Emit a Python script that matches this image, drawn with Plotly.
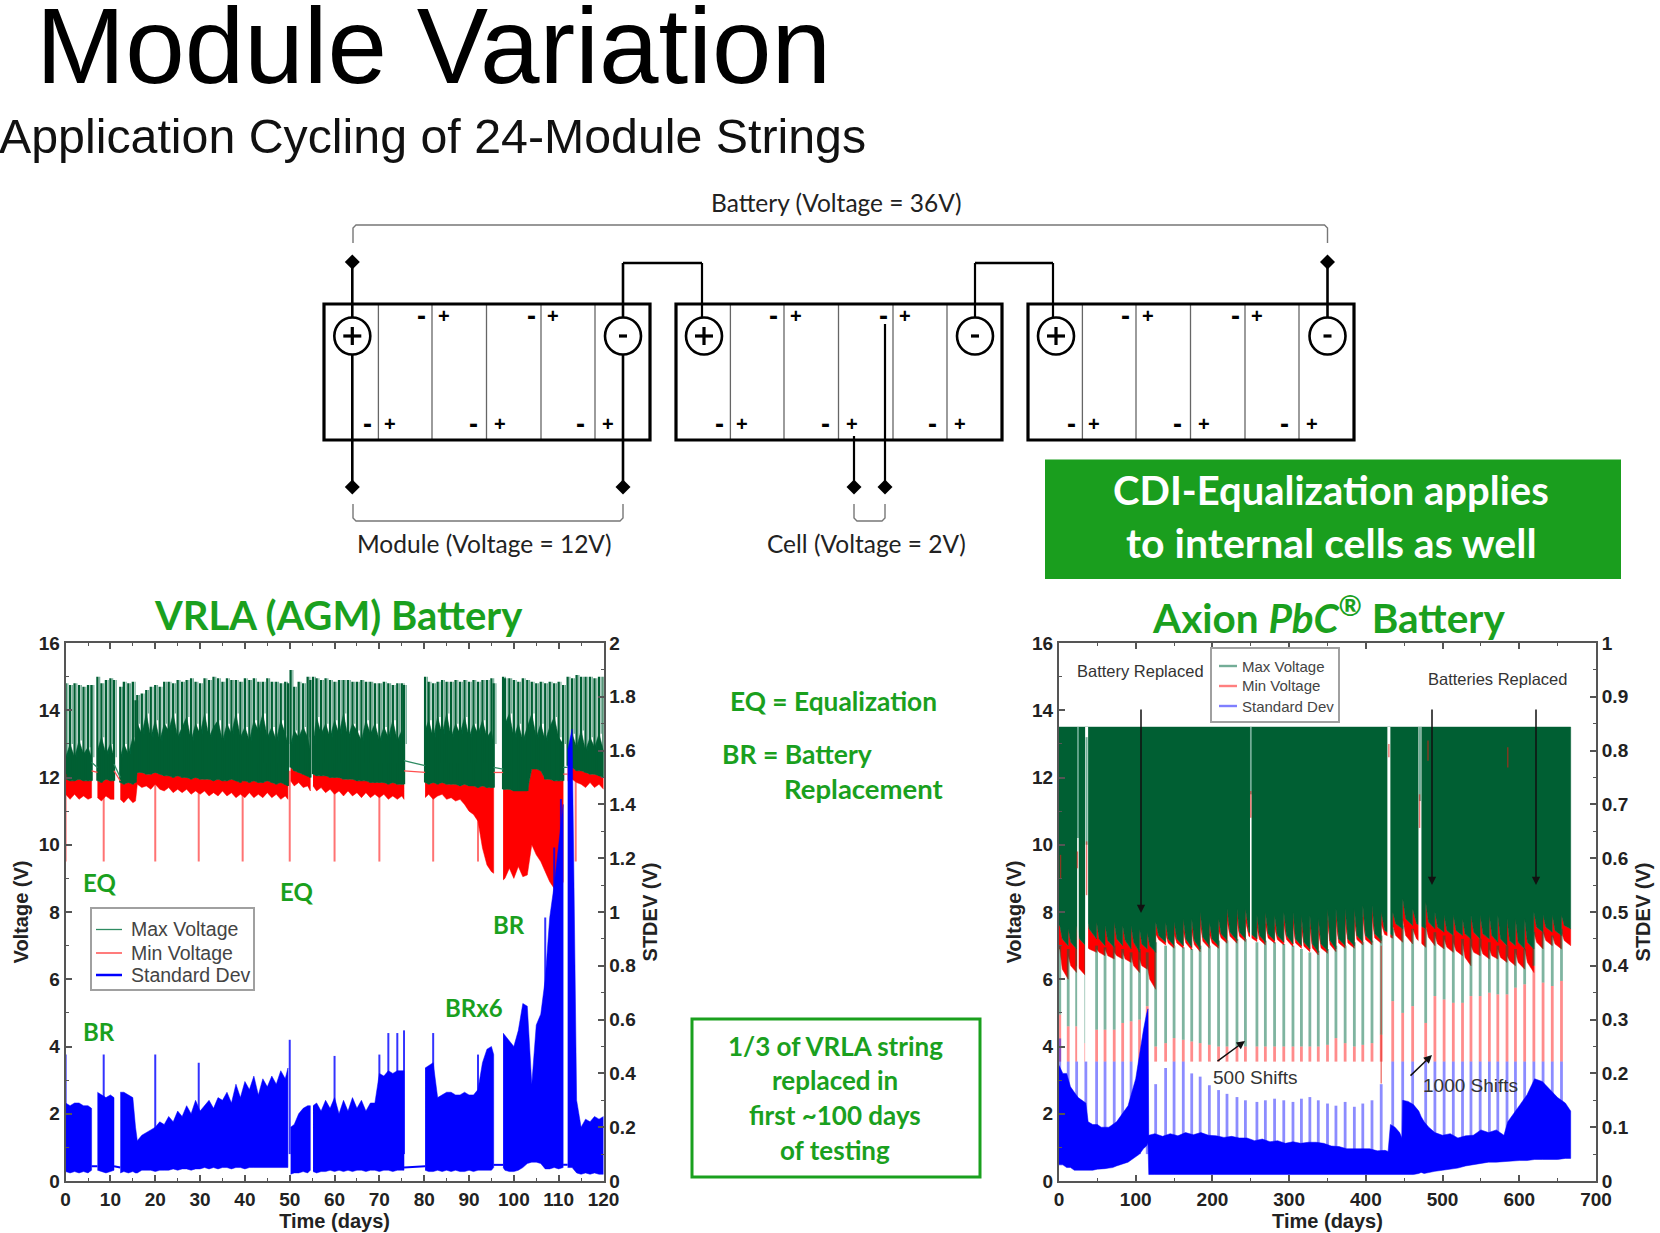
import plotly.graph_objects as go

W, H = 1660, 1233

# ---------- VRLA chart data (days, volts, stdev volts); None = break in the record ----------
vrla_days = [0,1,2,3,4,5,5.8, None,
  7.1,8,9,10,10.8, None,
  12.2,13,14,15,15.6,16,17,18,19,20,21,22,23,24,25,26,27,28,29,30,31,32,33,34,35,36,37,38,39,40,41,42,43,44,45,46,47,48,49,49.6, None,
  50.2,51,52,53,54,54.6, None,
  55.2,56,57,58,59,60,61,62,63,64,65,66,67,68,69,70,71,72,73,74,75,75.5, None,
  80.2,81,82,83,84,85,86,87,88,89,90,91,92,93,94,95,95.5, None,
  97.6,98,99,100,101,102,103,104,105,106,107,108,109,110,111, None,
  112,113,114,115,116,117,118,119,120]
vrla_max_top = [14.8,14.75,14.8,14.75,14.7,14.75,14.75, None,
  15.0,14.8,14.9,14.95,14.9, None,
  14.7,14.85,14.8,14.85,14.3,14.45,14.5,14.6,14.7,14.75,14.7,14.85,14.85,14.8,14.9,14.85,14.9,14.95,14.85,14.8,14.95,14.9,15,14.95,14.85,14.95,14.9,14.9,14.85,14.95,14.9,14.95,14.85,14.85,14.95,14.85,14.85,14.8,14.85,14.8, None,
  15.2,14.7,14.85,14.8,15.0,14.9, None,
  15.0,14.95,14.9,14.95,14.9,14.85,14.9,14.9,14.9,14.85,14.85,14.9,14.85,14.85,14.8,14.8,14.85,14.8,14.75,14.8,14.8,14.75, None,
  15.0,14.85,14.8,14.85,14.9,14.85,14.85,14.9,14.85,14.9,14.85,14.9,14.85,14.9,14.9,14.95,14.8, None,
  15.0,14.95,14.95,14.9,14.85,14.95,14.9,14.85,14.8,14.85,14.8,14.85,14.8,14.85,14.75, None,
  15.0,14.95,15.05,15,15,15,14.95,15,15]
vrla_max_mid = [12.6,13.0,12.6,13.1,12.7,12.9,12.6, None,
  12.8,13.2,12.7,13.0,12.6, None,
  12.6,13.0,12.7,13.2,13.0,13.6,13.3,13.9,13.2,13.7,13.1,13.6,13.4,13.9,13.2,13.5,13.8,13.1,13.6,13.3,13.9,13.2,13.5,13.7,13.1,13.6,13.3,13.9,13.2,13.5,13.1,13.7,13.4,13.9,13.2,13.5,13.1,13.7,13.3,13.0, None,
  13.0,13.4,13.2,13.5,13.2,12.8, None,
  13.0,13.8,13.3,13.6,13.2,13.7,13.3,13.9,13.2,13.6,13.4,13.1,13.7,13.3,13.6,13.1,13.5,13.2,13.7,13.1,13.4,13.0, None,
  13.4,13.7,13.2,13.8,13.3,13.9,13.2,13.6,13.3,13.8,13.2,13.6,13.3,13.7,13.2,13.4,13.0, None,
  13.1,13.6,13.9,13.2,13.6,13.1,13.5,13.9,13.2,13.6,13.1,13.5,13.8,13.2,13.0, None,
  12.7,13.3,12.9,13.4,12.8,13.2,12.9,13.3,12.8]
vrla_max_low = [11.95,11.9,11.9,11.95,11.9,11.9,11.9, None,
  11.9,11.85,11.95,11.9,11.9, None,
  11.85,11.8,11.85,11.8,11.85,12.15,12.15,12.1,12.1,12.15,12.1,12.05,12.05,12.0,12.05,12.0,12.0,11.95,12.0,11.95,11.95,11.95,11.9,11.95,11.9,11.9,11.95,11.9,11.85,11.9,11.85,11.9,11.85,11.85,11.9,11.85,11.8,11.85,11.8,11.75, None,
  12.3,12.2,12.15,12.1,12.05,12.0, None,
  12.1,12.05,12.05,12.05,12.0,12.0,12.0,11.95,11.95,11.95,11.9,11.9,11.9,11.85,11.85,11.85,11.85,11.8,11.85,11.8,11.8,11.8, None,
  11.85,11.8,11.85,11.8,11.85,11.8,11.8,11.8,11.75,11.8,11.75,11.75,11.7,11.75,11.7,11.7,11.7, None,
  11.65,11.65,11.65,11.6,11.6,11.6,11.6,12.25,12.25,12.2,11.95,11.95,11.9,11.9,11.9, None,
  12.35,12.3,12.2,12.2,12.15,12.1,12.1,12.05,12.0]
vrla_min_low = [11.5,11.35,11.5,11.35,11.45,11.35,11.4, None,
  11.4,11.3,11.45,11.35,11.35, None,
  11.35,11.25,11.4,11.25,11.3,11.8,11.7,11.75,11.65,11.8,11.65,11.6,11.7,11.55,11.65,11.55,11.65,11.5,11.6,11.5,11.6,11.45,11.55,11.45,11.6,11.45,11.55,11.4,11.5,11.4,11.55,11.4,11.5,11.4,11.55,11.4,11.5,11.35,11.45,11.35, None,
  11.9,11.75,11.85,11.7,11.75,11.6, None,
  11.75,11.6,11.7,11.55,11.65,11.5,11.6,11.45,11.6,11.45,11.55,11.4,11.55,11.4,11.5,11.4,11.5,11.35,11.45,11.35,11.45,11.35, None,
  11.4,11.5,11.35,11.45,11.5,11.35,11.4,11.3,11.35,11.2,11.0,10.9,10.7,9.9,9.4,9.2,9.15, None,
  8.95,9.0,9.3,9.0,9.35,9.05,9.1,10.0,9.7,9.5,9.2,8.9,8.7,8.5,8.9, None,
  11.9,11.95,11.85,11.8,11.7,11.85,11.7,11.8,11.65]
vrla_std_top = [.29,.28,.29,.29,.28,.28,.27, None,
  .33,.32,.31,.32,.31, None,
  .33,.33,.32,.31,.2,.15,.17,.18,.19,.2,.22,.21,.24,.22,.26,.24,.28,.25,.3,.26,.28,.3,.27,.31,.3,.33,.29,.36,.31,.37,.34,.39,.32,.38,.35,.39,.36,.41,.38,.42, None,
  .2,.21,.25,.27,.28,.28, None,
  .28,.29,.26,.3,.27,.31,.25,.3,.26,.31,.27,.3,.26,.29,.29,.4,.39,.41,.4,.41,.41,.41, None,
  .42,.43,.44,.31,.32,.33,.33,.32,.32,.33,.32,.32,.34,.44,.49,.5,.47, None,
  .55,.54,.52,.5,.56,.66,.65,.36,.58,.62,.75,.98,1.1,1.25,1.4, None,
  1.6,1.68,.3,.2,.23,.22,.24,.23,.24]
vrla_std_bot = [.035,.03,.035,.03,.035,.03,.04, None,
  .04,.035,.03,.035,.04, None,
  .03,.035,.03,.035,.03,.03,.04,.04,.04,.035,.04,.04,.04,.045,.04,.045,.045,.04,.045,.045,.05,.045,.05,.045,.05,.05,.045,.05,.05,.045,.05,.05,.05,.05,.05,.05,.05,.05,.05,.05, None,
  .025,.03,.03,.035,.03,.04, None,
  .035,.03,.035,.035,.04,.035,.04,.035,.04,.035,.04,.04,.035,.04,.04,.035,.04,.04,.035,.04,.04,.04, None,
  .04,.035,.035,.04,.035,.04,.035,.04,.035,.035,.04,.035,.04,.04,.04,.04,.05, None,
  .05,.04,.035,.035,.04,.05,.065,.07,.07,.065,.045,.045,.05,.045,.05, None,
  .05,.05,.03,.025,.03,.025,.03,.025,.025]
vrla_bridge_days = [5.8,7.1,None,10.8,12.2,None,75.5,80.2,None,95.5,97.6,None,111,112]
vrla_bridge_max = [12.45,12.3,None,12.4,12.0,None,12.5,12.35,None,12.3,12.25,None,12.3,12.3]
vrla_bridge_min = [12.2,12.15,None,12.2,11.9,None,12.2,12.15,None,12.15,12.15,None,12.1,12.1]
vrla_bridge_std = [.055,.055,None,.055,.05,None,.05,.055,None,.06,.06,None,.06,.06]
vrla_min_spike_days = [0,8.5,20,29.7,39.5,50,60,70,82,92,113.8]
vrla_min_spike_low = [9.5,9.5,9.5,9.5,9.5,9.5,9.5,9.5,9.5,9.5,9.5]
vrla_min_spike_high = [12.1,11.8,12.0,11.9,11.9,12.2,11.9,11.8,11.8,11.5,11.9]
vrla_std_spike_days = [0,8.5,20,29.7,50,60,70,72,74,75.5,82,92,107,109,110.5]
vrla_std_spike_top = [.47,.47,.47,.44,.525,.465,.47,.55,.55,.56,.55,.47,.98,1.24,1.42]
vrla_std_spike_base = [.1,.1,.1,.1,.1,.1,.1,.1,.1,.1,.1,.1,.1,.1,.1]

# ---------- PbC chart data ----------
pbc_spike_days = [1,12,23,35,49,60,72,83,94,105,115,
  126,139,150,162,173,184,196,208,219,232,243,258,269,281,293,305,316,327,338,350,361,373,385,396,408,420,
  435,448,461,478,
  490,502,514,526,537,549,561,572,584,595,607,619,631,643,655]
pbc_end_day = 667
pbc_max_ceiling = 13.5
pbc_edge_hi = [7.6,7.5,7.6,8.0,7.7,7.6,7.7,7.6,7.6,7.5,7.4,
  7.7,7.7,7.7,7.8,7.8,8.0,7.7,7.8,8.1,8.1,8.1,7.9,8.0,7.9,8.0,8.0,7.9,7.9,7.8,8.1,8.1,8.1,8.1,8.2,8.2,8.0,
  8.0,8.4,8.1,8.3,
  8.0,7.9,7.9,7.8,7.9,7.9,7.9,7.9,7.8,7.8,7.8,8.0,7.9,7.9,7.9]
pbc_edge_mid = [7.2,7.1,7.2,7.5,7.2,7.15,7.2,7.15,7.1,7.05,7.0,
  7.3,7.2,7.2,7.2,7.15,7.25,7.2,7.35,7.4,7.4,7.4,7.3,7.35,7.3,7.3,7.2,7.1,7.05,7.05,7.15,7.2,7.2,7.3,7.3,7.35,7.45,
  7.65,7.8,7.65,7.7,
  7.55,7.45,7.45,7.35,7.4,7.35,7.3,7.2,7.15,7.1,7.1,7.55,7.55,7.45,7.6]
pbc_edge_lo = [7.0,6.9,7.0,7.2,7.0,6.95,7.0,6.9,6.8,6.9,6.8,
  7.1,7.0,7.0,6.95,6.9,7.0,7.0,7.15,7.15,7.2,7.2,7.1,7.15,7.1,7.05,7.0,6.9,6.8,6.85,6.9,7.0,7.0,7.1,7.1,7.15,7.3,
  7.5,7.6,7.5,7.5,
  7.4,7.3,7.3,7.2,7.2,7.2,7.1,7.0,7.0,6.9,6.9,7.4,7.4,7.3,7.5]
pbc_red_hi = [6.9,6.7,6.4,7.0,6.9,6.9,6.8,6.8,6.7,6.6,6.4,
  7.35,7.35,7.35,7.45,7.45,7.65,7.35,7.45,7.75,7.75,7.75,7.55,7.65,7.55,7.65,7.65,7.55,7.55,7.45,7.75,7.75,7.75,7.75,7.85,7.85,7.65,
  7.6,7.8,7.5,7.6,
  7.3,7.2,7.1,7.1,7.0,7.0,6.9,6.9,6.7,6.8,6.9,7.4,7.4,7.3,7.4]
pbc_red_mid = [6.3,6.4,6.3,6.9,6.8,6.7,6.7,6.6,6.4,6.4,6.0,
  7.18,7.08,7.08,7.08,7.03,7.13,7.08,7.23,7.28,7.28,7.28,7.18,7.23,7.18,7.18,7.08,6.98,6.93,6.93,7.03,7.08,7.08,7.18,7.18,7.23,7.33,
  7.3,7.3,7.2,7.25,
  7.05,6.95,6.85,6.65,6.8,6.75,6.7,6.65,6.55,6.5,6.5,7.1,7.15,7.05,7.15]
pbc_red_lo = [6.0,6.2,6.1,6.8,6.7,6.6,6.6,6.5,6.2,6.3,5.7,
  7.02,6.92,6.92,6.87,6.82,6.92,6.92,7.07,7.07,7.12,7.12,7.02,7.07,7.02,6.97,6.92,6.82,6.72,6.77,6.82,6.92,6.92,7.02,7.02,7.07,7.22,
  7.1,7.05,6.95,7.0,
  6.9,6.8,6.7,6.4,6.7,6.6,6.6,6.5,6.4,6.3,6.2,6.9,7.0,6.9,7.0]
pbc_min_top = [4.95,4.6,4.6,4.1,4.5,4.5,4.5,4.7,4.75,4.8,5.2,
  4.0,4.1,4.25,4.2,4.15,4.1,4.05,4.0,4.0,4.0,4.0,4.0,4.0,4.0,4.0,4.0,4.0,4.0,4.0,4.05,4.25,4.1,4.0,4.05,4.1,4.35,
  5.35,5.0,5.2,4.7,
  5.5,5.4,5.3,5.3,5.5,5.5,5.6,5.55,5.55,5.75,5.85,6.4,5.9,5.8,5.95]
pbc_min_floor = 3.55
pbc_std_spike = [.265,.222,.222,.222,.222,.222,.222,.222,.222,.222,.222,
  .18,.21,.222,.222,.2,.194,.178,.169,.162,.156,.15,.147,.15,.153,.15,.147,.153,.156,.15,.144,.14,.147,.138,.144,.15,.18,
  .222,.222,.222,.222,
  .222,.222,.222,.222,.222,.222,.222,.222,.222,.222,.222,.222,.222,.222,.222]
pbc_std_base = .05
pbc_std_days = [0,5,10,15,20,25,30,35,38,44,50,55,60,65,70,75,80,85,90,95,100,105,110,114,116,
  117,125,135,145,155,165,175,185,195,205,215,225,235,245,255,265,275,285,295,305,315,325,335,345,355,365,375,385,395,405,415,425,429,
  432,438,444,447,448,455,462,469,472,476,482,490,500,510,520,530,540,550,560,570,580,585,590,600,610,620,630,640,650,660,667]
pbc_std_top = [.215,.2,.2,.175,.165,.155,.15,.145,.11,.105,.105,.1,.1,.1,.105,.11,.12,.13,.14,.165,.19,.235,.28,.31,.32,
  .085,.088,.083,.088,.084,.09,.086,.09,.085,.084,.081,.083,.08,.08,.075,.078,.073,.075,.07,.073,.07,.072,.072,.07,.065,.064,.06,.06,.06,.06,.056,.057,.055,
  .105,.1,.09,.08,.15,.148,.142,.13,.12,.11,.1,.09,.085,.088,.08,.084,.085,.095,.09,.095,.085,.11,.12,.14,.16,.19,.185,.17,.155,.145,.13]
pbc_std_bot = [.03,.03,.025,.025,.02,.02,.02,.02,.02,.02,.022,.022,.023,.024,.025,.028,.03,.032,.035,.04,.045,.05,.06,.065,.07,
  .012,.012,.012,.012,.012,.012,.012,.012,.012,.012,.012,.012,.012,.012,.012,.012,.012,.012,.012,.012,.012,.012,.012,.012,.012,.012,.012,.012,.012,.012,.012,.012,.012,
  .012,.012,.012,.012,.012,.012,.012,.014,.016,.014,.016,.018,.02,.022,.024,.028,.03,.032,.035,.035,.036,.037,.038,.038,.038,.04,.04,.04,.04,.042,.042]
pbc_gap_days = [36,430,470.5]
pbc_thin_gap_days = [24.7,250]
pbc_gap_ceiling = [13.5,13.5,13.5]
pbc_thin_gap_ceiling = [13.5,13.5]
pbc_relic_days = [2,24,36,250,430,470,481,585,420]
pbc_relic_low = [9.0,9.3,8.5,10.8,12.6,10.5,12.5,12.3,2.9]
pbc_relic_high = [9.7,9.8,10.1,11.6,13.0,11.5,13.1,12.9,7.0]
pbc_fill_days = [24.7,36,250,470.5]
pbc_fill_low = [10.2,10.0,11.5,11.3]
pbc_fill_high = [13.5,13.2,13.5,13.5]

# ---------- text ----------
series_names = ["Max Voltage", "Min Voltage", "Standard Dev"]
box_lines = ["1/3 of VRLA string", "replaced in", "first ~100 days", "of testing"]

GREEN_D = "#005f33"
GREEN_L = "rgba(0,105,65,0.55)"
RED = "#ff0000"
RED_L = "rgba(255,0,0,0.45)"
BLUE = "#0000ff"
BLUE_L = "rgba(0,0,255,0.45)"
TXT_GREEN = "#1aa01e"
ARIAL = "Liberation Sans"
CALIBRI = "Lato"


def px(x):
    return x / W


def py(y):
    return 1 - y / H


def sticks(xs, lows, highs):
    ox, oy = [], []
    for x, a, b in zip(xs, lows, highs):
        if x is None:
            continue
        ox += [x, x, None]
        oy += [a, b, None]
    return ox, oy


def band(xs, lows, highs):
    ox, oy = [], []
    run = []
    for t in list(zip(xs, lows, highs)) + [(None, None, None)]:
        if t[0] is None:
            if run:
                ox += [r[0] for r in run] + [r[0] for r in reversed(run)] + [None]
                oy += [r[1] for r in run] + [r[2] for r in reversed(run)] + [None]
            run = []
        else:
            run.append(t)
    return ox, oy


def saw(days, end, hi, mid, lo):
    xs, ys = [], []
    for i, d in enumerate(days):
        nxt = days[i + 1] if i + 1 < len(days) else end
        xs += [d, d + (nxt - d) * 0.3, nxt]
        ys += [hi[i], mid[i], lo[i]]
    return xs, ys


for arr in (vrla_max_top, vrla_max_mid, vrla_max_low, vrla_min_low, vrla_std_top, vrla_std_bot):
    assert len(arr) == len(vrla_days)
for arr in (pbc_edge_hi, pbc_edge_mid, pbc_edge_lo, pbc_red_hi, pbc_red_mid, pbc_red_lo, pbc_min_top, pbc_std_spike):
    assert len(arr) == len(pbc_spike_days)
assert len(pbc_std_top) == len(pbc_std_days) == len(pbc_std_bot)

fig = go.Figure()


def fillband(x, y, color, xa, ya, name=None):
    fig.add_trace(go.Scatter(x=x, y=y, mode="lines", fill="toself", fillcolor=color, name=name,
                             line=dict(color=color, width=0.5), showlegend=False,
                             hoverinfo="skip", xaxis=xa, yaxis=ya))


def linetr(x, y, color, width, xa, ya, name=None):
    fig.add_trace(go.Scatter(x=x, y=y, mode="lines", line=dict(color=color, width=width),
                             name=name, showlegend=False, hoverinfo="skip", xaxis=xa, yaxis=ya))


# --- VRLA ---
fx, fy = band(vrla_days, vrla_min_low, vrla_max_low)
fillband(fx, fy, RED, "x", "y", series_names[1])
fx, fy = band(vrla_days, vrla_max_low, vrla_max_mid)
fillband(fx, fy, GREEN_D, "x", "y", series_names[0])
fringe_days = [None if d is None else d + 0.5 for d in vrla_days]
sx, sy = sticks(fringe_days, vrla_max_mid, vrla_max_top)
linetr(sx, sy, GREEN_L, 1.2, "x", "y")
sx, sy = sticks(vrla_days, vrla_max_low, vrla_max_top)
linetr(sx, sy, GREEN_D, 2.3, "x", "y", series_names[0])
linetr(vrla_bridge_days, vrla_bridge_max, "#2e8b62", 1.3, "x", "y", series_names[0])
linetr(vrla_bridge_days, vrla_bridge_min, "#ff5050", 1.3, "x", "y", series_names[1])
sx, sy = sticks(vrla_min_spike_days, vrla_min_spike_low, vrla_min_spike_high)
linetr(sx, sy, "rgba(255,0,0,0.55)", 2, "x", "y", series_names[1])
fx, fy = band(vrla_days, vrla_std_bot, vrla_std_top)
fillband(fx, fy, BLUE, "x", "y2", series_names[2])
linetr(vrla_bridge_days, vrla_bridge_std, BLUE, 2, "x", "y2", series_names[2])
sx, sy = sticks(vrla_std_spike_days, vrla_std_spike_base, vrla_std_spike_top)
linetr(sx, sy, "rgba(0,0,255,0.8)", 2, "x", "y2", series_names[2])

# --- PbC ---
rx, ry = saw(pbc_spike_days, pbc_end_day, pbc_edge_hi, pbc_edge_mid, pbc_edge_lo)
fillx = [0] + rx + [pbc_end_day, 0, 0]
filly = [ry[0]] + ry + [pbc_max_ceiling, pbc_max_ceiling, ry[0]]
qx, qy = saw(pbc_spike_days, pbc_end_day, pbc_red_hi, pbc_red_mid, pbc_red_lo)
redx = [0] + rx + qx[::-1] + [0, 0]
redy = [ry[0]] + ry + qy[::-1] + [qy[0], ry[0]]
fillband(redx, redy, RED, "x2", "y3", series_names[1])
fillband(fillx, filly, GREEN_D, "x2", "y3", series_names[0])

floors = [pbc_min_floor for _ in pbc_spike_days]
sx, sy = sticks(pbc_spike_days, floors, pbc_min_top)
linetr(sx, sy, RED_L, 2.8, "x2", "y3", series_names[1])
sx, sy = sticks(pbc_spike_days, pbc_min_top, pbc_edge_lo)
linetr(sx, sy, "rgba(0,105,65,0.5)", 2.8, "x2", "y3", series_names[0])

fillband(*band(pbc_std_days, pbc_std_bot, pbc_std_top), BLUE, "x2", "y4", series_names[2])
bases = [pbc_std_base for _ in pbc_spike_days]
sx, sy = sticks(pbc_spike_days, bases, pbc_std_spike)
linetr(sx, sy, BLUE_L, 2.8, "x2", "y4", series_names[2])

sx, sy = sticks(pbc_gap_days, [0, 0, 0], pbc_gap_ceiling)
linetr(sx, sy, "#ffffff", 3, "x2", "y3")
sx, sy = sticks(pbc_thin_gap_days, [0, 0], pbc_thin_gap_ceiling)
linetr(sx, sy, "#ffffff", 1.6, "x2", "y3")
sx, sy = sticks(pbc_fill_days, pbc_fill_low, pbc_fill_high)
linetr(sx, sy, "rgba(0,105,65,0.55)", 2, "x2", "y3", series_names[0])
sx, sy = sticks(pbc_relic_days, pbc_relic_low, pbc_relic_high)
linetr(sx, sy, "rgba(225,30,20,0.6)", 1.4, "x2", "y3", series_names[1])

# ---------- axes ----------
AX = "#555555"
TICKF = dict(family=ARIAL, size=19, color="#222222", weight=700)
TITLEF = dict(family=ARIAL, size=20, color="#222222", weight=700)


def xaxis(domain, dtick, minor, rng, anchor):
    return dict(domain=domain, range=rng, dtick=dtick, tick0=0, anchor=anchor, showgrid=False, zeroline=False,
                showline=True, linecolor=AX, linewidth=2, mirror="ticks", ticks="inside", ticklen=6,
                tickcolor=AX, tickwidth=1.5, tickfont=TICKF,
                minor=dict(ticks="inside", dtick=minor, tick0=0, ticklen=3, tickcolor=AX, tickwidth=1),
                title=dict(text="Time (days)", font=TITLEF, standoff=1))


def yaxis(domain, rng, dtick, minor, side, title, anchor, overlay=None, standoff=5):
    d = dict(domain=domain, range=rng, dtick=dtick, tick0=0, anchor=anchor, side=side, showgrid=False, zeroline=False,
             showline=True, linecolor=AX, linewidth=2, ticks="inside", ticklen=6, tickcolor=AX, tickwidth=1.5,
             tickfont=TICKF,
             minor=dict(ticks="inside", dtick=minor, tick0=0, ticklen=3, tickcolor=AX, tickwidth=1),
             title=dict(text=title, font=TITLEF, standoff=standoff))
    if overlay:
        d["overlaying"] = overlay
    return d


ydom = [py(1181), py(643)]
ldom = [px(65.6), px(603.5)]
rdom = [px(1059), px(1596)]

# ---------- diagram ----------
shapes = []
annots = []


def ln(x0, y0, x1, y1, color="#000000", width=2):
    shapes.append(dict(type="line", xref="paper", yref="paper", x0=px(x0), y0=py(y0), x1=px(x1), y1=py(y1),
                       line=dict(color=color, width=width), layer="above"))


def note(text, x, y, size, color="#000000", bold=False, family=ARIAL, anchor="center"):
    f = dict(family=family, size=size, color=color)
    if bold:
        f["weight"] = 700
    annots.append(dict(text=text, xref="paper", yref="paper", x=px(x), y=py(y), xanchor=anchor, yanchor="middle",
                       showarrow=False, font=f))


def diamond(x, y):
    r = 7.5
    p = f"M {px(x - r)},{py(y)} L {px(x)},{py(y - r)} L {px(x + r)},{py(y)} L {px(x)},{py(y + r)} Z"
    shapes.append(dict(type="path", xref="paper", yref="paper", path=p, fillcolor="#000000",
                       line=dict(color="#000000", width=0), layer="above"))


def bracket(x0, x1, ybar, yend, width=1.4):
    if yend > ybar:
        p = f"M {px(x0)},{py(yend)} L {px(x0)},{py(ybar + 3)} L {px(x0 + 3)},{py(ybar)} L {px(x1 - 3)},{py(ybar)} L {px(x1)},{py(ybar + 3)} L {px(x1)},{py(yend)}"
    else:
        p = f"M {px(x0)},{py(yend)} L {px(x0)},{py(ybar - 3)} L {px(x0 + 3)},{py(ybar)} L {px(x1 - 3)},{py(ybar)} L {px(x1)},{py(ybar - 3)} L {px(x1)},{py(yend)}"
    shapes.append(dict(type="path", xref="paper", yref="paper", path=p, line=dict(color="#777777", width=width), layer="above"))


box_lefts = [324, 676, 1028]
box_w = 326
for bl in box_lefts:
    for off in (54.4, 108, 162.5, 217, 271):
        ln(bl + off, 304, bl + off, 440, "#666666", 1.3)
    shapes.append(dict(type="rect", xref="paper", yref="paper", x0=px(bl), x1=px(bl + box_w), y0=py(304), y1=py(440),
                       line=dict(color="#000000", width=3.2), layer="above"))
    for off, s in ((97, "-"), (120, "+"), (207, "-"), (229, "+")):
        note(s, bl + off, 316, 27 if s == "-" else 20, bold=True)
    for off, s in ((43.5, "-"), (66, "+"), (149.5, "-"), (176, "+"), (256, "-"), (284, "+")):
        note(s, bl + off, 424, 27 if s == "-" else 20, bold=True)

ln(352.3, 262, 352.3, 487, width=2.6)
ln(623, 263, 623, 487, width=2.6)
ln(623, 263, 702, 263, width=2.6)
ln(702, 263, 702, 317, width=2.2)
ln(975, 263, 975, 317, width=2.2)
ln(975, 263, 1053, 263, width=2.6)
ln(1053, 263, 1053, 317, width=2.2)
ln(1327.5, 262, 1327.5, 317, width=2.6)
ln(854, 436, 854, 487, width=2.2)
ln(885, 324, 885, 487, width=2.2)
for dx, dy in ((352.3, 262), (1327.5, 262), (352.3, 487), (623, 487), (854, 487), (885, 487)):
    diamond(dx, dy)

for cx, sign in ((352.3, "+"), (623, "-"), (704, "+"), (975, "-"), (1056, "+"), (1327.5, "-")):
    shapes.append(dict(type="circle", xref="paper", yref="paper", x0=px(cx - 18), x1=px(cx + 18), y0=py(336 - 18.5),
                       y1=py(336 + 18.5), fillcolor="#ffffff", line=dict(color="#000000", width=2.6), layer="above"))
    if sign == "+":
        ln(cx - 9, 336, cx + 9, 336, width=3.2)
        ln(cx, 327, cx, 345, width=3.2)
    else:
        ln(cx - 4, 336, cx + 4, 336, width=3.2)

bracket(353, 1327.5, 225, 243)
bracket(353, 623, 521, 504)
bracket(854, 885, 521, 504)

note("Battery (Voltage = 36V)", 837, 203, 24.5, "#222222", family=CALIBRI)
note("Module (Voltage = 12V)", 484, 543, 24.5, "#222222", family=CALIBRI)
note("Cell (Voltage = 2V)", 866, 543, 24.5, "#222222", family=CALIBRI)

shapes.append(dict(type="rect", xref="paper", yref="paper", x0=px(1045), x1=px(1621), y0=py(459.5), y1=py(579),
                   fillcolor="#1a9e1e", line=dict(width=0), layer="above"))
note("CDI-Equalization applies", 1331, 490, 40, "#ffffff", True, CALIBRI)
note("to internal cells as well", 1331, 542, 41, "#ffffff", True, CALIBRI)

note("Module Variation", 34, 46, 107, "#000000", anchor="left")
note("Application Cycling of 24-Module Strings", -3, 136, 48.3, "#111111", anchor="left")
note("VRLA (AGM) Battery", 338, 615, 40, TXT_GREEN, True, CALIBRI)
note("Axion <i>PbC</i><sup>®</sup> Battery", 1328, 615, 40.5, TXT_GREEN, True, CALIBRI)

note("EQ = Equalization", 834, 701, 26.3, TXT_GREEN, True, CALIBRI)
note("BR = Battery", 720, 754, 26.5, TXT_GREEN, True, CALIBRI, "left")
note("Replacement", 781.5, 788, 27.5, TXT_GREEN, True, CALIBRI, "left")
shapes.append(dict(type="rect", xref="paper", yref="paper", x0=px(692), x1=px(980), y0=py(1019), y1=py(1177),
                   line=dict(color=TXT_GREEN, width=3), layer="above"))
for line_text, ly in zip(box_lines, (1046, 1080, 1115, 1150)):
    note(line_text, 835, ly, 26, TXT_GREEN, True, CALIBRI)

for t, x, y in (("EQ", 99.5, 882), ("BR", 98.5, 1031), ("EQ", 296, 891), ("BR", 509, 924), ("BRx6", 474, 1007)):
    note(t, x, y, 24, TXT_GREEN, True, CALIBRI)

note("Battery Replaced", 1140, 671, 16.5, "#333333")
note("Batteries Replaced", 1497, 679, 16.5, "#333333")
note("500 Shifts", 1255, 1077, 19, "#333333")
note("1000 Shifts", 1470, 1085, 19, "#333333")


def arrow(x0, y0, x1, y1):
    annots.append(dict(text=" ", xref="paper", yref="paper", x=px(x1), y=py(y1), axref="pixel", ayref="pixel",
                       ax=x0 - x1, ay=y0 - y1, showarrow=True, arrowhead=2, arrowsize=1.1, arrowwidth=1.5,
                       arrowcolor="#111111", font=dict(size=6)))


arrow(1141, 704, 1141, 913)
arrow(1432, 704, 1432, 885)
arrow(1536, 704, 1536, 885)
arrow(1215, 1063, 1245, 1041)
arrow(1408, 1078, 1432, 1055)


# ---------- legends (tight rows as in the source figure) ----------
def legend_box(x0, y0, x1, y1, rows, line_x0, line_x1, text_x, size, colors, widths):
    shapes.append(dict(type="rect", xref="paper", yref="paper", x0=px(x0), x1=px(x1), y0=py(y0), y1=py(y1),
                       fillcolor="#ffffff", line=dict(color="#a0a0a0", width=2), layer="above"))
    for label, ry_, c, w in zip(series_names, rows, colors, widths):
        ln(line_x0, ry_, line_x1, ry_, c, w)
        note(label, text_x, ry_, size, "#444444", anchor="left")


legend_box(91, 908, 254, 990, (929.5, 953, 975), 96, 122, 129, 19.5, ("#2e8b62", "#ff5050", "#0000ff"), (1.3, 1.5, 2.5))
legend_box(1211, 648, 1339, 722, (666, 686, 706), 1219, 1237, 1240, 15,
           ("rgba(0,105,65,0.55)", "rgba(255,0,0,0.5)", "rgba(0,0,255,0.5)"), (2.4, 2.4, 2.4))

fig.update_layout(
    width=W, height=H, margin=dict(l=0, r=0, t=0, b=0, autoexpand=False), paper_bgcolor="#ffffff", plot_bgcolor="#ffffff",
    hovermode=False, showlegend=False, shapes=shapes, annotations=annots,
    xaxis=xaxis(ldom, 10, 5, [0, 120], "y"),
    xaxis2=xaxis(rdom, 100, 50, [0, 700], "y3"),
    yaxis=yaxis(ydom, [0, 16], 2, 1, "left", "Voltage (V)", "x"),
    yaxis2=yaxis(ydom, [0, 2], 0.2, 0.1, "right", "STDEV (V)", "x", "y", 8),
    yaxis3=yaxis(ydom, [0, 16], 2, 1, "left", "Voltage (V)", "x2"),
    yaxis4=yaxis(ydom, [0, 1], 0.1, 0.05, "right", "STDEV (V)", "x2", "y3", 8),
)

fig.write_html("out.html", config={"displayModeBar": False},
               post_script="document.documentElement.style.margin='0';document.body.style.margin='0';document.body.style.overflow='hidden';")
